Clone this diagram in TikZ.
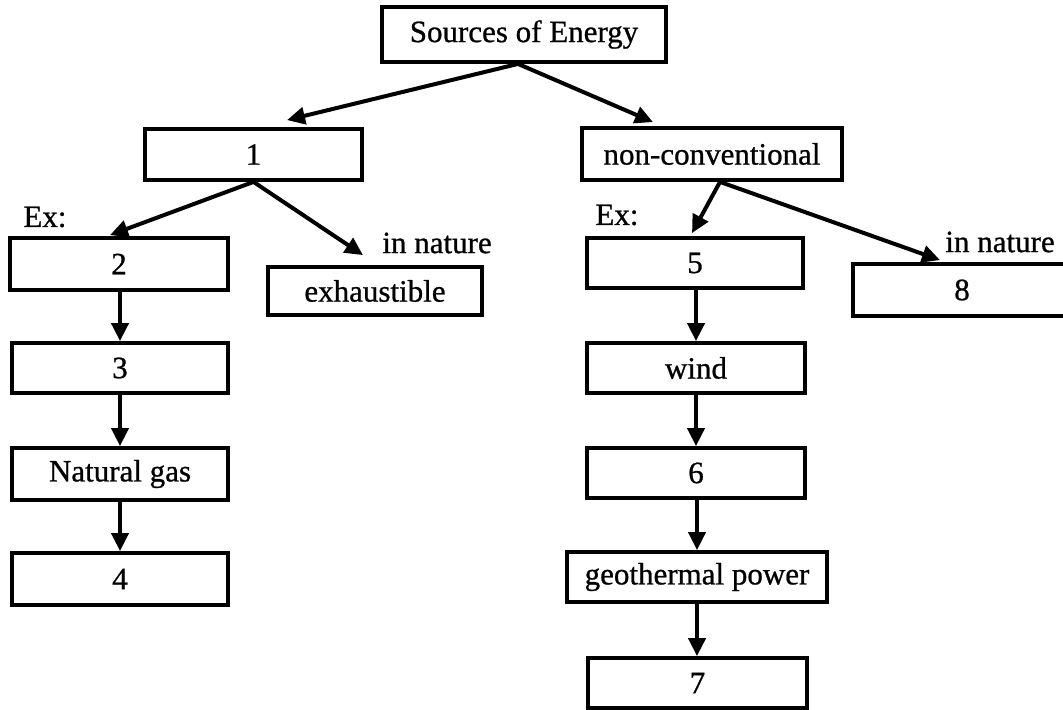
\documentclass[tikz,border=0pt]{standalone}
\usepackage{fontspec}
\setmainfont{Liberation Serif}[FakeBold=0.8]
\usetikzlibrary{arrows.meta}
\begin{document}
\begin{tikzpicture}[x=0.5pt,y=-0.5pt,
  every node/.style={font=\fontsize{15.5}{18}\selectfont},
  box/.style={draw, line width=1.9pt, rectangle, inner sep=0pt, anchor=center},
  lbl/.style={anchor=west, inner sep=0pt},
  arr/.style={line width=2pt, -{Triangle[length=9pt,width=8.5pt]}}]
\useasboundingbox (0,0) rectangle (1063,710);
\clip (0,0) rectangle (1063,710);

% root
\node[box, minimum width=142pt, minimum height=27.5pt] (src) at (524,34.5) {Sources of Energy};

% second level
\node[box, minimum width=108.5pt, minimum height=25.5pt] (one) at (253.5,154.5) {1};
\node[box, minimum width=130pt, minimum height=26pt] (nonc) at (712,154) {non-conventional};

% left branch
\node[box, minimum width=109pt, minimum height=26pt] (two) at (119,264) {2};
\node[box, minimum width=107pt, minimum height=24pt] (exh) at (375,291) {exhaustible};
\node[box, minimum width=108pt, minimum height=25pt] (three) at (120,368) {3};
\node[box, minimum width=108pt, minimum height=26pt] (gas) at (120,474) {Natural gas};
\node[box, minimum width=108pt, minimum height=26pt] (four) at (120,579) {4};

% right branch
\node[box, minimum width=108pt, minimum height=25pt] (five) at (695,263) {5};
\node[box, minimum width=109pt, minimum height=26pt] (eight) at (962,290) {8};
\node[box, minimum width=109pt, minimum height=25pt] (wind) at (696,368) {wind};
\node[box, minimum width=109pt, minimum height=25pt] (six) at (696,473) {6};
\node[box, minimum width=130pt, minimum height=25pt] (geo) at (697,577) {geothermal power};
\node[box, minimum width=109.5pt, minimum height=25pt] (seven) at (697.5,683) {7};

% side labels
\node[lbl] (exl) at (23,217) {Ex:};
\node[lbl] (exr) at (595,215) {Ex:};
\node[lbl] (natl) at (382,243) {in nature};
\node[lbl] (natr) at (945,242) {in nature};

% branching arrows
\draw[arr] ([shift={(-6,0)}]src.south) -- ([shift={(33.5,-7)}]one.north);
\draw[arr] ([shift={(-6,0)}]src.south) -- ([shift={(-59,-4)}]nonc.north);
\draw[arr] (one.south) -- ([shift={(-9,-1)}]two.north);
\draw[arr] (one.south) -- ([shift={(-12,-10)}]exh.north);
\draw[arr] ([shift={(8,0)}]nonc.south) -- ([shift={(-3,-3)}]five.north);
\draw[arr] ([shift={(8,0)}]nonc.south) -- ([shift={(-22,-2)}]eight.north);

% chains
\draw[arr] (two.south -| three.north) -- (three.north);
\draw[arr] (three.south) -- (gas.north);
\draw[arr] (gas.south) -- (four.north);
\draw[arr] (five.south -| wind.north) -- (wind.north);
\draw[arr] (wind.south) -- (six.north);
\draw[arr] (six.south -| geo.north) -- (geo.north);
\draw[arr] (geo.south) -- (seven.north -| geo.south);
\end{tikzpicture}
\end{document}
